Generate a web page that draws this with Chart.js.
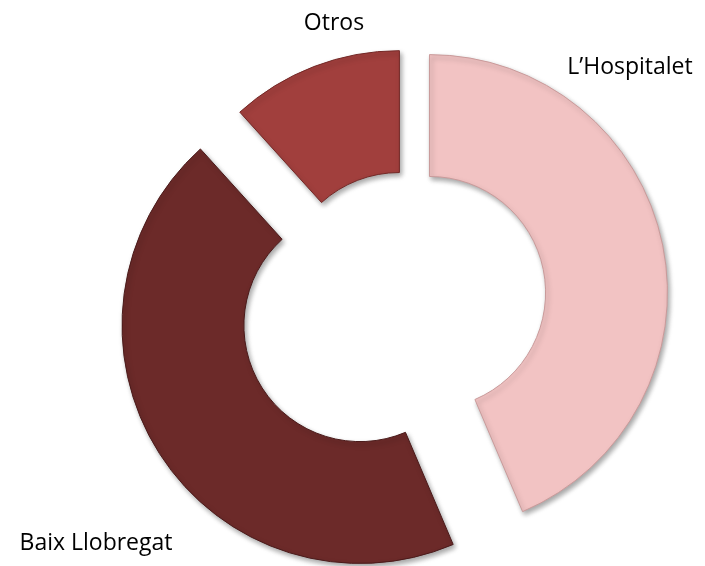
<!DOCTYPE html>
<html lang="es">
<head>
    <meta charset="UTF-8">
    <script src="https://cdn.jsdelivr.net/npm/chart.js"></script>
    <style>
        html, body { margin: 0; padding: 0; background: #ffffff; }
        #wrap { width: 705px; height: 566px; position: relative; }
    </style>
</head>
<body>
    <div id="wrap"><canvas id="donutChart"></canvas></div>

    <script>
        // data (share of total, %)
        const categories = ['L\u2019Hospitalet', 'Baix Llobregat', 'Otros'];
        const shares = [43.6, 44.7, 11.7];
        const sliceColors = ['#f2c3c3', '#6c2a29', '#a13f3d'];
        const edgeColors = ['#c99a9a', '#4a1a1a', '#732826'];
        // how far each slice is pulled out of the ring (px)
        const explode = [27, 51, 10];

        // where each label sits, relative to the ring centre
        const labelSpots = [
            { dx: 227, dy: -231 },
            { dx: -307, dy: 245 },
            { dx: -69, dy: -275 }
        ];

        // soft drop shadow under the slices
        const shadowPlugin = {
            id: 'shadow',
            beforeDatasetsDraw(chart) {
                const c = chart.ctx;
                c.save();
                c.shadowColor = 'rgba(0,0,0,0.35)';
                c.shadowBlur = 5;
                c.shadowOffsetX = 2;
                c.shadowOffsetY = 3;
            },
            afterDatasetsDraw(chart) {
                chart.ctx.restore();
            }
        };

        // pull each arc out along its middle angle without growing its radius
        // (chart.js' own offset also widens the arc, which the reference doesn't)
        const explodePlugin = {
            id: 'explode',
            beforeDatasetsDraw(chart) {
                chart.getDatasetMeta(0).data.forEach(function (el, i) {
                    if (el._pulled) return;
                    const baseDraw = el.draw;
                    el.draw = function (c, area) {
                        const mid = (this.startAngle + this.endAngle) / 2;
                        c.save();
                        c.translate(Math.cos(mid) * explode[i], Math.sin(mid) * explode[i]);
                        baseDraw.call(this, c, area);
                        c.restore();
                    };
                    el._pulled = true;
                });
            }
        };

        const labelPlugin = {
            id: 'sliceLabels',
            afterDraw(chart) {
                const c = chart.ctx;
                const arc = chart.getDatasetMeta(0).data[0];
                c.save();
                c.font = '23px "Open Sans", sans-serif';
                c.fillStyle = '#000';
                c.textAlign = 'center';
                c.textBaseline = 'middle';
                chart.data.labels.forEach(function (name, i) {
                    c.fillText(name, arc.x + labelSpots[i].dx, arc.y + labelSpots[i].dy);
                });
                c.restore();
            }
        };

        const ctx = document.getElementById('donutChart').getContext('2d');
        const myChart = new Chart(ctx, {
            type: 'doughnut',
            data: {
                labels: categories,
                datasets: [{
                    data: shares,
                    backgroundColor: sliceColors,
                    borderColor: edgeColors,
                    borderWidth: 1
                }]
            },
            options: {
                responsive: true,
                maintainAspectRatio: false,
                animation: false,
                cutout: '48.8%',
                radius: 238,
                layout: { padding: { left: 101, top: 30, right: 0, bottom: 0 } },
                plugins: {
                    legend: { display: false },
                    tooltip: { enabled: false }
                }
            },
            plugins: [shadowPlugin, explodePlugin, labelPlugin]
        });
    </script>
</body>
</html>
